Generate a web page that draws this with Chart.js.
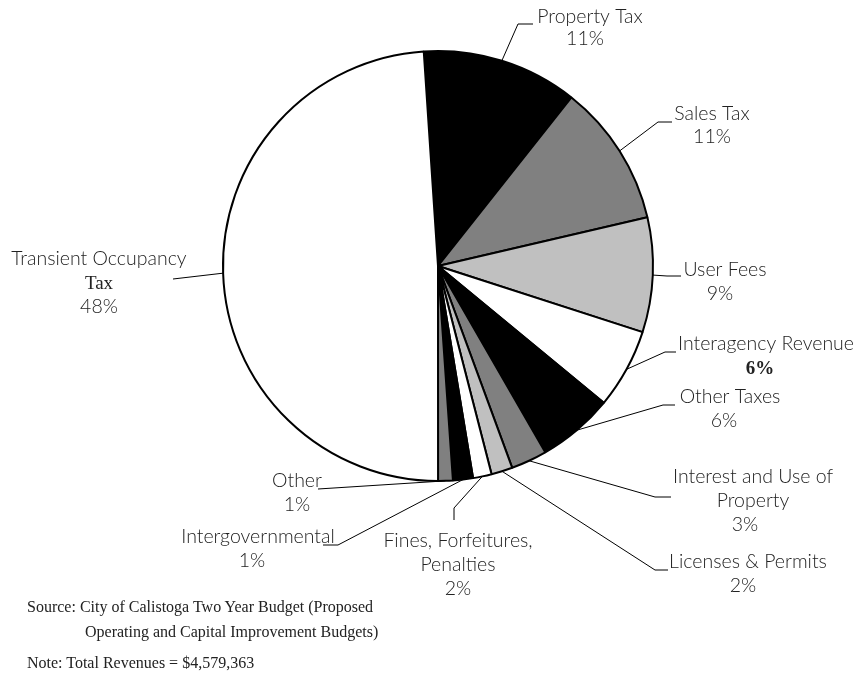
<!DOCTYPE html>
<html>
<head>
<meta charset="utf-8">
<script src="https://cdn.jsdelivr.net/npm/chart.js@4.4.1/dist/chart.umd.min.js"></script>
<style>
  body { margin: 0; background: #fff; }
  #wrap { position: relative; width: 864px; height: 680px; }
  .note { position: absolute; font-family: "Liberation Serif", serif; font-size: 16px; color: #222; white-space: nowrap; }
</style>
</head>
<body>
<div id="wrap">
  <canvas id="pie" width="864" height="680"></canvas>
  <div class="note" style="left:27px; top:598px;">Source: City of Calistoga Two Year Budget (Proposed</div>
  <div class="note" style="left:85px; top:623px;">Operating and Capital Improvement Budgets)</div>
  <div class="note" style="left:27px; top:654px;">Note: Total Revenues = $4,579,363</div>
</div>
<script>
// revenue categories, clockwise from the top
const categories = ['Property Tax', 'Sales Tax', 'User Fees', 'Interagency Revenue', 'Other Taxes',
    'Interest and Use of Property', 'Licenses & Permits', 'Fines, Forfeitures, Penalties',
    'Intergovernmental', 'Other', 'Transient Occupancy Tax'];
// share of total revenues (%)
const shares = [11.7, 10.7, 8.6, 6.0, 5.7, 2.7, 1.6, 1.4, 1.5, 1.1, 48.9];
// percentages as printed on the chart
const percentLabels = ['11%', '11%', '9%', '6%', '6%', '3%', '2%', '2%', '1%', '1%', '48%'];

const sliceColors = ['#000000', '#808080', '#c0c0c0', '#ffffff', '#000000', '#808080',
    '#c0c0c0', '#ffffff', '#000000', '#808080', '#ffffff'];

const SANS = '300 19.5px Lato, "Open Sans", sans-serif';
const SERIF = '19px "Liberation Serif", serif';

// where each label sits and how its leader line bends
const labelLayout = [
    { lines: ['Property Tax'], x: 590, y: 23, gap: 22, pctX: 585, path: [[518, 24], [533, 24]] },
    { lines: ['Sales Tax'], x: 712, y: 120, gap: 23, path: [[658, 122], [672, 122]] },
    { lines: ['User Fees'], x: 725, y: 276, pctX: 720, path: [[667, 276], [681, 276]] },
    { lines: ['Interagency Revenue'], x: 766, y: 350, pctX: 760, pctSerif: true, path: [[665, 352], [676, 352]] },
    { lines: ['Other Taxes'], x: 730, y: 403, pctX: 724, path: [[663, 405], [675, 405]] },
    { lines: ['Interest and Use of', 'Property'], x: 753, y: 483, pctX: 745, path: [[655, 497], [671, 497]] },
    { lines: ['Licenses & Permits'], x: 748, y: 568, pctX: 743, path: [[655, 570], [668, 570]] },
    { lines: ['Fines, Forfeitures,', 'Penalties'], x: 458, y: 547, path: [[454, 508], [454, 520]] },
    { lines: ['Intergovernmental'], x: 258, y: 543, pctX: 252, path: [[338, 545], [323, 545]] },
    { lines: ['Other'], x: 297, y: 487, path: [[318, 489]] },
    { lines: ['Transient Occupancy', 'Tax'], serifLine: 1, x: 99, y: 265, path: [[173, 279]] }
];

const leaderLabels = {
    id: 'leaderLabels',
    afterDraw(chart) {
        const ctx = chart.ctx;
        const arcs = chart.getDatasetMeta(0).data;
        ctx.save();
        arcs.forEach((arc, i) => {
            const p = arc.getProps(['x', 'y', 'startAngle', 'endAngle', 'outerRadius'], true);
            const mid = (p.startAngle + p.endAngle) / 2;
            const lay = labelLayout[i];

            // leader line from the rim of the slice
            ctx.beginPath();
            ctx.moveTo(p.x + Math.cos(mid) * p.outerRadius, p.y + Math.sin(mid) * p.outerRadius);
            lay.path.forEach(pt => ctx.lineTo(pt[0], pt[1]));
            ctx.strokeStyle = '#000';
            ctx.lineWidth = 1;
            ctx.stroke();

            // label text
            const gap = lay.gap || 24;
            ctx.fillStyle = '#222';
            ctx.textAlign = 'center';
            ctx.textBaseline = 'alphabetic';
            lay.lines.forEach((line, k) => {
                ctx.font = lay.serifLine === k ? SERIF : SANS;
                ctx.fillText(line, lay.x, lay.y + k * gap);
            });
            ctx.font = lay.pctSerif ? 'bold ' + SERIF : SANS;
            ctx.fillText(percentLabels[i], lay.pctX || lay.x, lay.y + lay.lines.length * gap);
        });
        ctx.restore();
    }
};

new Chart(document.getElementById('pie'), {
    type: 'pie',
    data: {
        labels: categories,
        datasets: [{
            data: shares,
            backgroundColor: sliceColors,
            borderColor: '#000',
            borderWidth: 2,
            radius: 215
        }]
    },
    options: {
        responsive: false,
        animation: false,
        devicePixelRatio: 1,
        rotation: -3.8,
        layout: { padding: { left: 12, right: 0, top: 0, bottom: 148 } },
        plugins: {
            legend: { display: false },
            tooltip: { enabled: false }
        }
    },
    plugins: [leaderLabels]
});
</script>
</body>
</html>
